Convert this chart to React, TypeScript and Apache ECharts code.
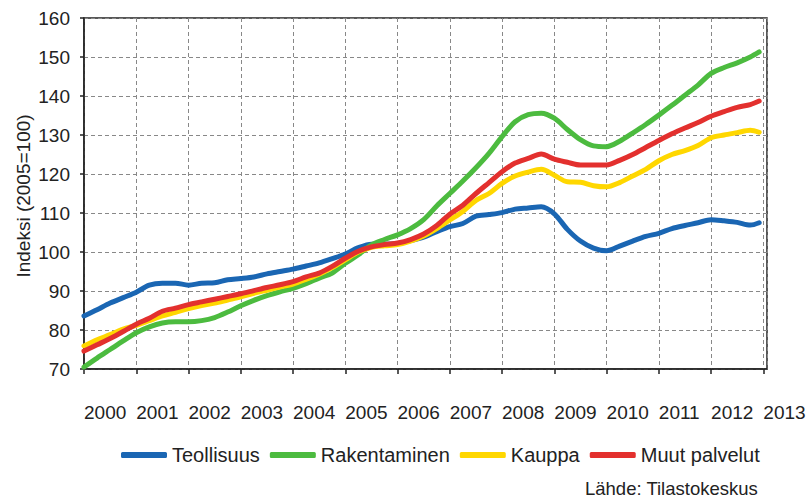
import React, { useEffect, useRef } from "react";
import * as echarts from "echarts";

const years = [
  2000.0, 2000.25, 2000.5, 2000.75, 2001.0, 2001.25, 2001.5, 2001.75,
  2002.0, 2002.25, 2002.5, 2002.75, 2003.0, 2003.25, 2003.5, 2003.75,
  2004.0, 2004.25, 2004.5, 2004.75, 2005.0, 2005.25, 2005.5, 2005.75,
  2006.0, 2006.25, 2006.5, 2006.75, 2007.0, 2007.25, 2007.5, 2007.75,
  2008.0, 2008.25, 2008.5, 2008.75, 2009.0, 2009.25, 2009.5, 2009.75,
  2010.0, 2010.25, 2010.5, 2010.75, 2011.0, 2011.25, 2011.5, 2011.75,
  2012.0, 2012.25, 2012.5, 2012.75, 2012.92,
];

const teollisuus = [
  83.6, 85.2, 86.9, 88.3, 89.7, 91.5, 92.0, 92.0,
  91.5, 92.0, 92.1, 92.9, 93.2, 93.6, 94.4, 95.0,
  95.6, 96.4, 97.2, 98.3, 99.5, 101.1, 102.0, 102.0,
  102.2, 102.9, 103.8, 105.2, 106.5, 107.3, 109.2, 109.6,
  110.1, 111.0, 111.3, 111.6, 109.8, 105.8, 102.8, 101.0,
  100.3, 101.5, 102.8, 104.0, 104.8, 106.0, 106.8, 107.5,
  108.3, 108.0, 107.6, 106.9, 107.5,
];

const rakentaminen = [
  70.5, 72.8, 75.0, 77.2, 79.3, 80.8, 81.8, 82.1,
  82.1, 82.4, 83.2, 84.6, 86.2, 87.6, 88.8, 89.8,
  90.7, 91.9, 93.3, 94.6, 97.1, 99.3, 101.8, 103.2,
  104.4, 106.0, 108.3, 111.8, 115.0, 118.2, 121.6, 125.3,
  129.6, 133.4, 135.2, 135.6, 134.3, 131.4, 128.8, 127.2,
  127.0, 128.4, 130.5, 132.7, 135.1, 137.6, 140.2, 142.8,
  145.8, 147.3, 148.5, 150.0, 151.3,
];

const kauppa = [
  75.9, 77.5, 78.8, 80.2, 81.2, 82.4, 83.6, 84.5,
  85.5, 86.3, 86.9, 87.7, 88.5, 89.4, 90.2, 91.0,
  91.8, 93.0, 94.3, 96.0, 98.0, 100.0, 101.2, 101.6,
  101.9, 102.8, 104.1, 106.0, 108.2, 110.4, 113.2, 115.0,
  117.6, 119.5, 120.5, 121.2, 119.7, 118.0, 117.9, 117.0,
  116.7, 117.8, 119.5, 121.2, 123.4, 125.0, 126.0, 127.3,
  129.3, 130.0, 130.6, 131.2, 130.7,
];

const muutPalvelut = [
  74.6, 76.2, 77.8, 79.6, 81.5, 83.0, 84.8, 85.6,
  86.5, 87.2, 87.9, 88.6, 89.3, 90.1, 90.9, 91.6,
  92.4, 93.6, 94.6, 96.3, 98.4, 100.2, 101.3, 101.9,
  102.3, 103.2, 104.6, 106.8, 109.7, 112.0, 115.0, 117.8,
  120.6, 122.8, 124.0, 125.1, 123.8, 123.0, 122.3, 122.3,
  122.3, 123.5, 125.0, 126.8, 128.6, 130.3, 131.8, 133.2,
  134.8, 136.0, 137.1, 137.8, 138.7,
];

const seriesNames = ["Teollisuus", "Rakentaminen", "Kauppa", "Muut palvelut"];
const seriesValues = [teollisuus, rakentaminen, kauppa, muutPalvelut];
const seriesColors = ["#1a66b3", "#4cbb3f", "#ffd700", "#e3302e"];

const yAxisTitle = "Indeksi (2005=100)";
const sourceText = "Lähde: Tilastokeskus";

const FONT = "'Liberation Sans', Arial, sans-serif";

export default function App() {
  const ref = useRef<HTMLDivElement>(null);

  useEffect(() => {
    if (!ref.current) return;
    document.body.style.margin = "0";
    const chart = echarts.init(ref.current, undefined, { renderer: "svg" });

    const series = seriesNames.map((name, i) => ({
      name,
      type: "line",
      data: years.map((x, j) => [x, seriesValues[i][j]]),
      showSymbol: false,
      symbol: "none",
      smooth: 0.3,
      lineStyle: { width: 5, color: seriesColors[i], cap: "round", join: "round" },
      itemStyle: { color: seriesColors[i] },
    }));

    chart.setOption({
      animation: false,
      backgroundColor: "#ffffff",
      textStyle: { fontFamily: FONT },
      grid: {
        left: 84,
        top: 18,
        right: 43,
        bottom: 133,
        show: true,
        borderColor: "#222",
        borderWidth: 1.5,
        backgroundColor: "transparent",
      },
      legend: {
        data: seriesNames,
        left: 121,
        top: 445,
        padding: 0,
        itemWidth: 46,
        itemHeight: 6,
        itemGap: 10,
        icon: "roundRect",
        textStyle: { fontSize: 20, color: "#222", fontFamily: FONT },
      },
      xAxis: {
        type: "value",
        min: 2000,
        max: 2013.07,
        interval: 1,
        axisLine: { show: true, lineStyle: { color: "#222", width: 1.5 } },
        axisTick: { show: true, length: 5, lineStyle: { color: "#222", width: 1.5 } },
        axisLabel: {
          showMaxLabel: false,
          margin: 34,
          align: "left",
          fontSize: 19,
          color: "#222",
          fontFamily: FONT,
          formatter: (v: number) => (Math.abs(v - Math.round(v)) < 1e-6 ? String(Math.round(v)) : ""),
        },
        splitLine: { show: true, lineStyle: { color: "#888", type: [4, 3], width: 1 } },
      },
      yAxis: {
        type: "value",
        min: 70,
        max: 160,
        interval: 10,
        axisLine: { show: true, lineStyle: { color: "#222", width: 1.5 } },
        axisTick: { show: true, length: 4, lineStyle: { color: "#222", width: 1.5 } },
        axisLabel: { margin: 14, fontSize: 19, color: "#222", fontFamily: FONT },
        splitLine: { show: true, lineStyle: { color: "#888", type: [4, 3], width: 1 } },
      },
      graphic: [
        {
          type: "text",
          x: 23,
          y: 196,
          rotation: Math.PI / 2,
          style: {
            text: yAxisTitle,
            fontSize: 19,
            fill: "#222",
            fontFamily: FONT,
            align: "center",
            verticalAlign: "middle",
          },
        },
        {
          type: "text",
          x: 585,
          y: 488,
          style: {
            text: sourceText,
            fontSize: 18.5,
            fill: "#222",
            fontFamily: FONT,
            align: "left",
            verticalAlign: "middle",
          },
        },
      ],
      series,
    });

    return () => chart.dispose();
  }, []);

  return <div ref={ref} style={{ width: 810, height: 502 }} />;
}
